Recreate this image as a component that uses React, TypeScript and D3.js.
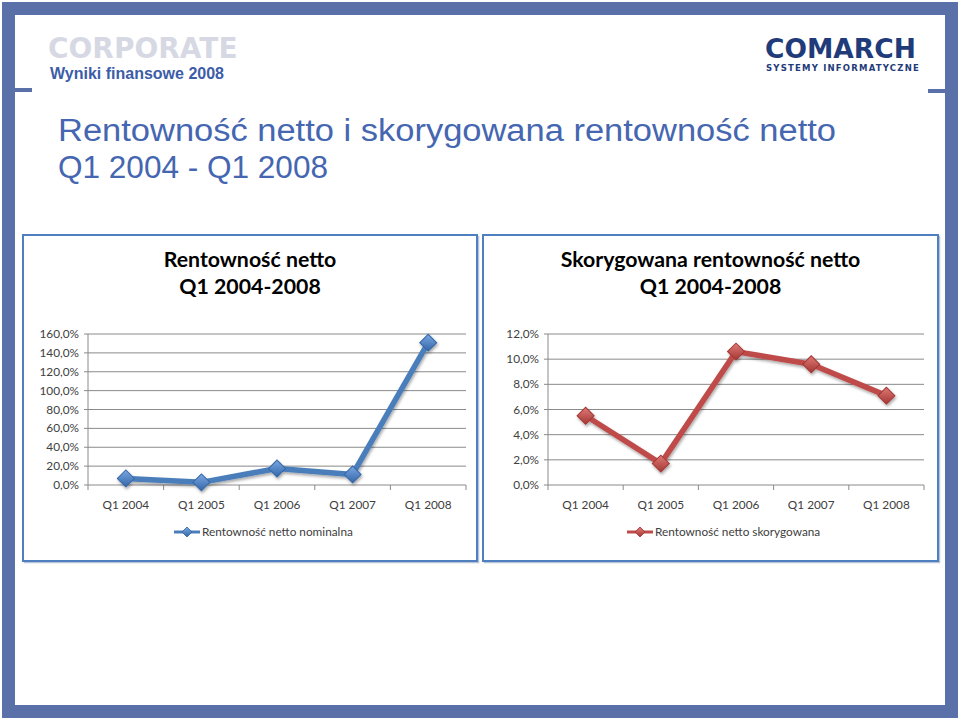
import * as d3 from "d3";

// Chart data
const categories = ["Q1 2004", "Q1 2005", "Q1 2006", "Q1 2007", "Q1 2008"];
const nominalValues = [7.0, 2.8, 17.5, 11.2, 150.8];
const adjustedValues = [5.5, 1.7, 10.6, 9.6, 7.1];
const nominalTicks = [0, 20, 40, 60, 80, 100, 120, 140, 160];
const adjustedTicks = [0, 2, 4, 6, 8, 10, 12];

const nominalTitle = ["Rentowność netto", "Q1 2004-2008"];
const adjustedTitle = ["Skorygowana rentowność netto", "Q1 2004-2008"];
const nominalLegend = "Rentowność netto nominalna";
const adjustedLegend = "Rentowność netto skorygowana";

const FRAME = "#5a70a8";
const HEAD_BLUE = "#4566b0";
const CHART_FONT = "Lato, 'Open Sans', sans-serif";

const fmt = (v: number) => d3.format(".1f")(v).replace(".", ",") + "%";

interface PanelProps {
  id: string;
  box: { x: number; y: number; w: number; h: number };
  plot: { x0: number; x1: number; y0: number; y1: number };
  title: string[];
  ticks: number[];
  values: number[];
  legend: string;
  legendX: number;
  colors: { line: string; light: string; dark: string };
}

function Panel({ id, box, plot, title, ticks, values, legend, legendX, colors }: PanelProps) {
  const x = d3.scaleBand<string>().domain(categories).range([plot.x0, plot.x1]);
  const y = d3
    .scaleLinear()
    .domain([0, d3.max(ticks) || 0])
    .range([plot.y1, plot.y0]);

  const line = d3
    .line<number>()
    .x((d, i) => (x(categories[i]) || 0) + x.bandwidth() / 2)
    .y((d) => y(d));

  const diamond = d3.symbol(d3.symbolSquare, 144)() || "";
  const smallDiamond = d3.symbol(d3.symbolSquare, 50)() || "";
  const cx = (box.x + box.x + box.w) / 2;
  const legendY = plot.y1 + 47;

  return (
    <g>
      <defs>
        <linearGradient id={`grad-${id}`} x1="0" y1="0" x2="1" y2="1">
          <stop offset="0" stopColor={colors.light} />
          <stop offset="1" stopColor={colors.dark} />
        </linearGradient>
        <filter id={`shadow-${id}`} x="-10%" y="-10%" width="120%" height="120%">
          <feDropShadow dx="1" dy="2" stdDeviation="1.5" floodColor="#000" floodOpacity="0.35" />
        </filter>
      </defs>
      {/* panel frame */}
      <rect x={box.x + 1.5} y={box.y + 1.5} width={box.w} height={box.h} fill="none" stroke="#b8c4d8" strokeWidth={1.5} />
      <rect x={box.x} y={box.y} width={box.w} height={box.h} fill="#fff" stroke="#4f7fbf" strokeWidth={2} />

      {title.map((t, i) => (
        <text key={t} x={cx} y={box.y + 32 + i * 27} textAnchor="middle" fontFamily={CHART_FONT} fontWeight="bold" fontSize={21.3} fill="#000">
          {t}
        </text>
      ))}

      {/* gridlines and y ticks */}
      {ticks.map((t) => (
        <g key={t}>
          <line x1={plot.x0} x2={plot.x1} y1={y(t)} y2={y(t)} stroke="#8a8a8a" strokeWidth={1} />
          <line x1={plot.x0 - 4} x2={plot.x0} y1={y(t)} y2={y(t)} stroke="#8a8a8a" />
          <text x={plot.x0 - 9} y={y(t) + 4} textAnchor="end" fontFamily={CHART_FONT} fontSize={11.8} fill="#404040">
            {fmt(t)}
          </text>
        </g>
      ))}
      <line x1={plot.x0} x2={plot.x0} y1={plot.y0} y2={plot.y1} stroke="#8a8a8a" />

      {/* x axis */}
      {[...categories.map((c) => x(c) || 0), plot.x1].map((bx, i) => (
        <line key={i} x1={bx} x2={bx} y1={plot.y1} y2={plot.y1 + 5} stroke="#8a8a8a" />
      ))}
      {categories.map((c) => (
        <text key={c} x={(x(c) || 0) + x.bandwidth() / 2} y={plot.y1 + 24} textAnchor="middle" fontFamily={CHART_FONT} fontSize={11.8} fill="#404040">
          {c}
        </text>
      ))}

      {/* series */}
      <g filter={`url(#shadow-${id})`}>
        <path d={line(values) || ""} fill="none" stroke={colors.line} strokeWidth={5.5} strokeLinejoin="round" />
        {values.map((v, i) => (
          <path
            key={i}
            d={diamond}
            transform={`translate(${(x(categories[i]) || 0) + x.bandwidth() / 2},${y(v)}) rotate(45)`}
            fill={`url(#grad-${id})`}
            stroke={colors.dark}
            strokeWidth={1}
          />
        ))}
      </g>

      {/* legend */}
      <line x1={legendX} x2={legendX + 26} y1={legendY} y2={legendY} stroke={colors.line} strokeWidth={3} />
      <path d={smallDiamond} transform={`translate(${legendX + 13},${legendY}) rotate(45)`} fill={`url(#grad-${id})`} stroke={colors.dark} strokeWidth={0.8} />
      <text x={legendX + 28} y={legendY + 4} fontFamily={CHART_FONT} fontSize={11.8} fill="#404040">
        {legend}
      </text>
    </g>
  );
}

export default function App() {
  return (
    <svg width={960} height={720} style={{ position: "absolute", left: 0, top: 0, background: "#fff" }}>
      {/* slide frame */}
      <rect x={0} y={0} width={960} height={720} fill="#fff" />
      <rect x={8.5} y={8.5} width={943} height={703} fill="none" stroke={FRAME} strokeWidth={13} />
      <rect x={15} y={88} width={17} height={4} fill={FRAME} />
      <rect x={928} y={89} width={17} height={4} fill={FRAME} />

      {/* header */}
      <text x={48} y={58} fontFamily="'DejaVu Sans', sans-serif" fontWeight="bold" fontSize={28} fill="#d6d9e4">
        CORPORATE
      </text>
      <text x={50} y={79} fontFamily="'Liberation Sans', Arial, sans-serif" fontWeight="bold" fontSize={16} fill="#3d5ca8">
        Wyniki finansowe 2008
      </text>
      <text x={765} y={58} fontFamily="'DejaVu Sans', sans-serif" fontWeight="bold" fontSize={26.5} fill="#1f3b7a">
        COMARCH
      </text>
      <text x={766} y={71} fontFamily="'DejaVu Sans', sans-serif" fontWeight="bold" fontSize={8.5} letterSpacing={1.2} fill="#1f3b7a">
        SYSTEMY INFORMATYCZNE
      </text>

      <text x={58} y={141} fontFamily="'Liberation Sans', Arial, sans-serif" fontSize={31} textLength={778} lengthAdjust="spacingAndGlyphs" fill={HEAD_BLUE}>
        Rentowność netto i skorygowana rentowność netto
      </text>
      <text x={58} y={178} fontFamily="'Liberation Sans', Arial, sans-serif" fontSize={31} textLength={270} lengthAdjust="spacingAndGlyphs" fill={HEAD_BLUE}>
        Q1 2004 - Q1 2008
      </text>

      <Panel
        id="nom"
        box={{ x: 23, y: 235, w: 454, h: 326 }}
        plot={{ x0: 88, x1: 466, y0: 334, y1: 485 }}
        title={nominalTitle}
        ticks={nominalTicks}
        values={nominalValues}
        legend={nominalLegend}
        legendX={174}
        colors={{ line: "#4a7ebb", light: "#7aa8e2", dark: "#3566a8" }}
      />
      <Panel
        id="adj"
        box={{ x: 483, y: 235, w: 455, h: 326 }}
        plot={{ x0: 548, x1: 924, y0: 334, y1: 485 }}
        title={adjustedTitle}
        ticks={adjustedTicks}
        values={adjustedValues}
        legend={adjustedLegend}
        legendX={627}
        colors={{ line: "#be4b48", light: "#e07a76", dark: "#a33734" }}
      />
    </svg>
  );
}
